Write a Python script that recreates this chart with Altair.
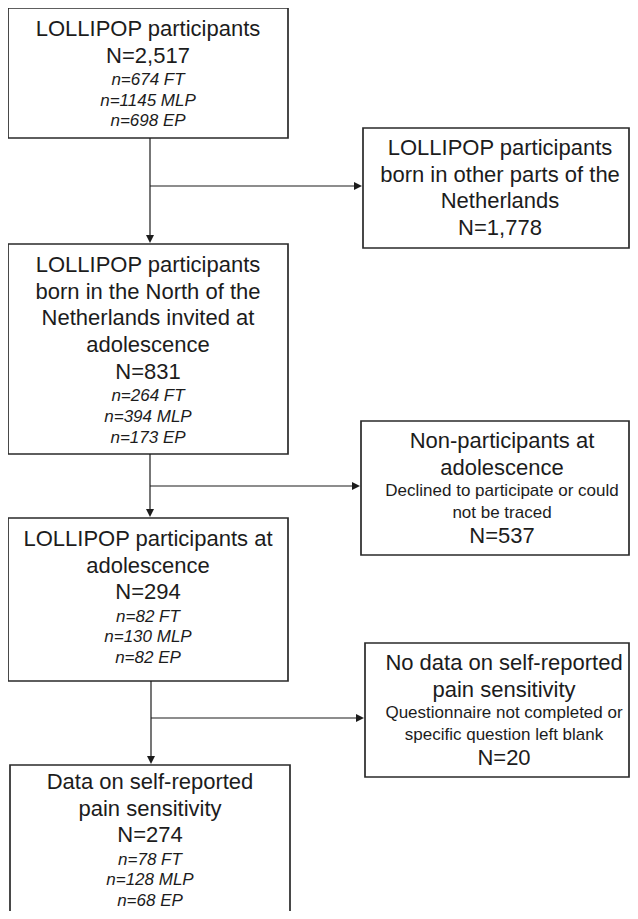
import altair as alt
import pandas as pd

# ---------------- chart content (text of the flow chart) ----------------
headings = [
    ["LOLLIPOP participants"],
    ["LOLLIPOP participants", "born in other parts of the", "Netherlands"],
    ["LOLLIPOP participants", "born in the North of the", "Netherlands invited at", "adolescence"],
    ["Non-participants at", "adolescence"],
    ["LOLLIPOP participants at", "adolescence"],
    ["No data on self-reported", "pain sensitivity"],
    ["Data on self-reported", "pain sensitivity"],
]
notes = [
    [],
    [],
    [],
    ["Declined to participate or could", "not be traced"],
    [],
    ["Questionnaire not completed or", "specific question left blank"],
    [],
]
totals = ["N=2,517", "N=1,778", "N=831", "N=537", "N=294", "N=20", "N=274"]
n_ft = ["n=674 FT", None, "n=264 FT", None, "n=82 FT", None, "n=78 FT"]
n_mlp = ["n=1145 MLP", None, "n=394 MLP", None, "n=130 MLP", None, "n=128 MLP"]
n_ep = ["n=698 EP", None, "n=173 EP", None, "n=82 EP", None, "n=68 EP"]

# flow: (from box, main-path box, exclusion box)
flow_steps = [(0, 2, 1), (2, 4, 3), (4, 6, 5)]

# ---------------- layout (page pixels) ----------------
box_x = [(8, 288), (363, 629), (8, 288), (361, 629), (8, 288), (365, 629), (10, 290)]
box_y = [(8, 138), (128, 248), (244, 454), (421, 555), (518, 681), (643, 777), (765, 930)]
text_cx = [148, 500, 148, 502, 148, 504, 150]
first_baseline = [36, 155, 272, 448, 546, 670, 789]
trunk_x = [150, 150, 151]
branch_y = [186, 486, 718]
gap = {("h", "h"): 26.7, ("h", "N"): 26.7, ("N", "i"): 22.3, ("i", "i"): 20.7,
       ("h", "s"): 21.0, ("s", "s"): 22.0, ("s", "N"): 25.0}
font_size = {"h": 22, "N": 22, "i": 17, "s": 17}

FONT = "Liberation Sans, Arial, Helvetica, sans-serif"
INK = "#1c1c1c"

# ---------------- build tables ----------------
boxes = pd.DataFrame({
    "x": [b[0] for b in box_x], "x2": [b[1] for b in box_x],
    "y": [b[0] for b in box_y], "y2": [b[1] for b in box_y],
})

rows = []
for i in range(len(headings)):
    lines = [(t, "h") for t in headings[i]] + [(t, "s") for t in notes[i]] + [(totals[i], "N")]
    for t in (n_ft[i], n_mlp[i], n_ep[i]):
        if t:
            lines.append((t, "i"))
    y = first_baseline[i]
    prev = None
    for t, st in lines:
        if prev is not None:
            y += gap[(prev, st)]
        rows.append({"x": text_cx[i], "y": y, "text": t, "size": font_size[st],
                     "italic": st == "i"})
        prev = st
texts = pd.DataFrame(rows)

rules, tips_down, tips_right = [], [], []
for k, (src, dst, exc) in enumerate(flow_steps):
    tx = trunk_x[k]
    top = box_y[src][1]
    bottom = box_y[dst][0]
    rules.append({"x": tx, "x2": tx, "y": top, "y2": bottom - 3})
    tips_down.append({"x": tx, "y": bottom - 5})
    ex = box_x[exc][0]
    rules.append({"x": tx, "x2": ex - 3, "y": branch_y[k], "y2": branch_y[k]})
    tips_right.append({"x": ex - 5, "y": branch_y[k]})
rules = pd.DataFrame(rules)
tips_down = pd.DataFrame(tips_down)
tips_right = pd.DataFrame(tips_right)

W, H = 622, 903
xs = alt.Scale(domain=[8, 8 + W], nice=False, zero=False)
ys = alt.Scale(domain=[8, 8 + H], nice=False, zero=False, reverse=True)

box_layer = alt.Chart(boxes).mark_rect(
    fill="white", stroke="#2a2a2a", strokeWidth=1.7
).encode(
    x=alt.X("x:Q", scale=xs, axis=None), x2="x2:Q",
    y=alt.Y("y:Q", scale=ys, axis=None), y2="y2:Q",
)

rule_layer = alt.Chart(rules).mark_rule(color=INK, strokeWidth=1.2).encode(
    x=alt.X("x:Q", scale=xs, axis=None), x2="x2:Q",
    y=alt.Y("y:Q", scale=ys, axis=None), y2="y2:Q",
)

down_layer = alt.Chart(tips_down).mark_point(
    shape="M-1,-1L1,-1L0,1Z", filled=True, color=INK, size=64, opacity=1, strokeWidth=0
).encode(
    x=alt.X("x:Q", scale=xs, axis=None),
    y=alt.Y("y:Q", scale=ys, axis=None),
)

right_layer = alt.Chart(tips_right).mark_point(
    shape="M-1,-1L1,0L-1,1Z", filled=True, color=INK, size=64, opacity=1, strokeWidth=0
).encode(
    x=alt.X("x:Q", scale=xs, axis=None),
    y=alt.Y("y:Q", scale=ys, axis=None),
)

text_regular = alt.Chart(texts).transform_filter("!datum.italic").mark_text(
    font=FONT, color=INK, baseline="alphabetic", align="center"
).encode(
    x=alt.X("x:Q", scale=xs, axis=None),
    y=alt.Y("y:Q", scale=ys, axis=None),
    text="text:N",
    size=alt.Size("size:Q", scale=None),
)

text_italic = alt.Chart(texts).transform_filter("datum.italic").mark_text(
    font=FONT, color=INK, baseline="alphabetic", align="center", fontStyle="italic"
).encode(
    x=alt.X("x:Q", scale=xs, axis=None),
    y=alt.Y("y:Q", scale=ys, axis=None),
    text="text:N",
    size=alt.Size("size:Q", scale=None),
)

chart = alt.layer(
    box_layer, rule_layer, down_layer, right_layer, text_regular, text_italic
).properties(
    width=W, height=H, padding=0, autosize=alt.AutoSizeParams(type="none"),
    background="white",
).configure_view(stroke=None)

chart.save("out.html", embed_options={"renderer": "svg", "actions": False})
